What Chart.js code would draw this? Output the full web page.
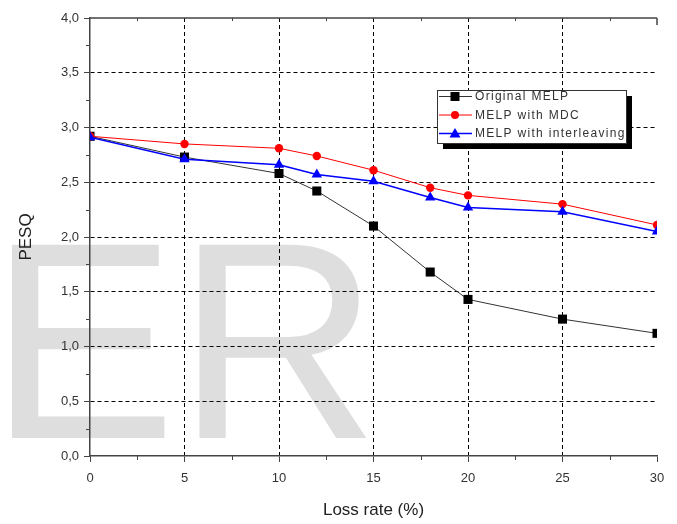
<!DOCTYPE html>
<html>
<head>
<meta charset="utf-8">
<script src="https://cdn.jsdelivr.net/npm/chart.js@4.4.0/dist/chart.umd.min.js"></script>
<style>
  html, body { margin: 0; padding: 0; background: #fff; }
  canvas { display: block; }
</style>
</head>
<body>
<canvas id="grafico" width="677" height="524"></canvas>
<script>
/* dados */
const taxasPerda = [0, 5, 10, 12, 15, 18, 20, 25, 30];
const melpOriginal = [2.92, 2.73, 2.58, 2.42, 2.10, 1.68, 1.43, 1.25, 1.12];
const melpMdc = [2.92, 2.85, 2.81, 2.74, 2.61, 2.45, 2.38, 2.30, 2.11];
const melpInterleaving = [2.91, 2.71, 2.66, 2.57, 2.51, 2.36, 2.27, 2.23, 2.05];
const nomesSeries = ['Original MELP', 'MELP with MDC', 'MELP with interleaving'];
const ticksX = [0, 5, 10, 15, 20, 25, 30];
const ticksY = [0, 0.5, 1, 1.5, 2, 2.5, 3, 3.5, 4];

const COR_EIXO = '#444';
const COR_TEXTO = '#333';

function pontos(valores) {
    return taxasPerda.map((x, i) => ({ x: x, y: valores[i] }));
}

// marca d'água "ER" atrás de tudo
const marcaDagua = {
    id: 'marcaDagua',
    beforeDraw(chart) {
        const ctx = chart.ctx;
        ctx.save();
        ctx.fillStyle = '#dedede';
        ctx.font = '281px "Liberation Sans", Arial, sans-serif';
        ctx.textBaseline = 'alphabetic';
        ctx.fillText('ER', -11, 438);
        ctx.restore();
    }
};

// moldura de cima e ticks menores
const moldura = {
    id: 'moldura',
    afterDraw(chart) {
        const ctx = chart.ctx;
        const a = chart.chartArea;
        const sx = chart.scales.x, sy = chart.scales.y;
        ctx.save();
        ctx.strokeStyle = COR_EIXO;
        ctx.lineWidth = 1.5;
        ctx.beginPath();
        ctx.moveTo(a.left, a.top);
        ctx.lineTo(a.right, a.top);
        ctx.moveTo(a.right, a.top);
        ctx.lineTo(a.right, a.top + 7);
        ctx.stroke();

        ctx.lineWidth = 1;
        ctx.beginPath();
        for (let v = 2.5; v < 30; v += 5) {
            const px = Math.round(sx.getPixelForValue(v)) + 0.5;
            ctx.moveTo(px, a.bottom);
            ctx.lineTo(px, a.bottom + 4);
            ctx.moveTo(px, a.top);
            ctx.lineTo(px, a.top + 3);
        }
        for (let v = 0.25; v < 4; v += 0.5) {
            const py = Math.round(sy.getPixelForValue(v)) + 0.5;
            ctx.moveTo(a.left, py);
            ctx.lineTo(a.left - 4, py);
        }
        ctx.stroke();
        ctx.restore();
    }
};

// legenda desenhada dentro da área do gráfico
const legendaCaixa = {
    id: 'legendaCaixa',
    afterDraw(chart) {
        const ctx = chart.ctx;
        const L = { x: 437, y: 90, w: 189, h: 53 };
        ctx.save();
        ctx.fillStyle = '#000';
        ctx.fillRect(L.x + 6, L.y + 6, L.w, L.h);
        ctx.fillStyle = '#fff';
        ctx.fillRect(L.x, L.y, L.w, L.h);
        ctx.strokeStyle = '#333';
        ctx.lineWidth = 1;
        ctx.strokeRect(L.x + 0.5, L.y + 0.5, L.w, L.h);

        const linhas = [96.5, 115, 133.5];
        chart.data.datasets.forEach((ds, i) => {
            const y = linhas[i];
            ctx.strokeStyle = ds.borderColor;
            ctx.lineWidth = ds.borderWidth;
            ctx.beginPath();
            ctx.moveTo(L.x + 2, y);
            ctx.lineTo(L.x + 35, y);
            ctx.stroke();

            const cx = L.x + 18;
            ctx.fillStyle = ds.pointBackgroundColor;
            ctx.beginPath();
            if (ds.pointStyle === 'rect') {
                ctx.rect(cx - 4.5, y - 4.5, 9, 9);
            } else if (ds.pointStyle === 'circle') {
                ctx.arc(cx, y, 4, 0, Math.PI * 2);
            } else {
                ctx.moveTo(cx, y - 5.5);
                ctx.lineTo(cx + 5.5, y + 4);
                ctx.lineTo(cx - 5.5, y + 4);
                ctx.closePath();
            }
            ctx.fill();

            ctx.fillStyle = COR_TEXTO;
            ctx.font = '12px "Liberation Sans", Arial, sans-serif';
            ctx.letterSpacing = '1.3px';
            ctx.textBaseline = 'middle';
            ctx.fillText(nomesSeries[i], L.x + 38, y + 0.5);
        });
        ctx.restore();
    }
};

const fonteTick = { family: '"Liberation Sans", Arial, sans-serif', size: 13 };
const fonteTitulo = { family: '"Liberation Sans", Arial, sans-serif', size: 17 };

new Chart(document.getElementById('grafico'), {
    type: 'line',
    data: {
        datasets: [
            {
                label: nomesSeries[0],
                data: pontos(melpOriginal),
                borderColor: '#333',
                borderWidth: 1,
                pointStyle: 'rect',
                pointRadius: 6.4,
                pointBackgroundColor: '#000',
                pointBorderColor: '#000',
                pointBorderWidth: 0,
                order: 3,
                clip: 0
            },
            {
                label: nomesSeries[1],
                data: pontos(melpMdc),
                borderColor: '#ff0000',
                borderWidth: 1,
                pointStyle: 'circle',
                pointRadius: 4.2,
                pointBackgroundColor: '#ff0000',
                pointBorderColor: '#ff0000',
                pointBorderWidth: 0,
                order: 2,
                clip: 0
            },
            {
                label: nomesSeries[2],
                data: pontos(melpInterleaving),
                borderColor: '#0000ff',
                borderWidth: 1.5,
                pointStyle: 'triangle',
                pointRadius: 6,
                pointBackgroundColor: '#0000ff',
                pointBorderColor: '#0000ff',
                pointBorderWidth: 0,
                order: 1,
                clip: 0
            }
        ]
    },
    options: {
        responsive: false,
        animation: false,
        layout: { padding: { left: 10, top: 18, right: 20, bottom: 0 } },
        plugins: { legend: { display: false }, tooltip: { enabled: false } },
        scales: {
            x: {
                type: 'linear',
                min: 0,
                max: 30,
                afterBuildTicks: (s) => { s.ticks = ticksX.map(v => ({ value: v })); },
                afterFit: (s) => { s.height = 68; },
                ticks: { font: fonteTick, color: COR_TEXTO, padding: 9, maxRotation: 0 },
                grid: {
                    color: (c) => (c.tick && (c.tick.value === 0 || c.tick.value === 30)) ? 'rgba(0,0,0,0)' : '#000',
                    lineWidth: 1,
                    tickColor: COR_EIXO,
                    tickLength: 6,
                    tickWidth: 1
                },
                border: { color: COR_EIXO, width: 1.5, dash: [4, 3] },
                title: { display: true, text: 'Loss rate (%)', font: fonteTitulo, color: '#222', padding: { top: 4, bottom: 3 } }
            },
            y: {
                min: 0,
                max: 4,
                afterBuildTicks: (s) => { s.ticks = ticksY.map(v => ({ value: v })); },
                afterFit: (s) => { s.width = 80; },
                ticks: {
                    font: fonteTick,
                    color: COR_TEXTO,
                    padding: 5,
                    callback: (v) => Number(v).toFixed(1).replace('.', ',')
                },
                grid: {
                    color: (c) => (c.tick && (c.tick.value === 0 || c.tick.value === 4)) ? 'rgba(0,0,0,0)' : '#000',
                    lineWidth: 1,
                    tickColor: COR_EIXO,
                    tickLength: 6,
                    tickWidth: 1
                },
                border: { color: COR_EIXO, width: 1.5, dash: [4, 3] },
                title: { display: true, text: 'PESQ', font: fonteTitulo, color: '#222', padding: { top: 6, bottom: 0 } }
            }
        }
    },
    plugins: [marcaDagua, moldura, legendaCaixa]
});
</script>
</body>
</html>
